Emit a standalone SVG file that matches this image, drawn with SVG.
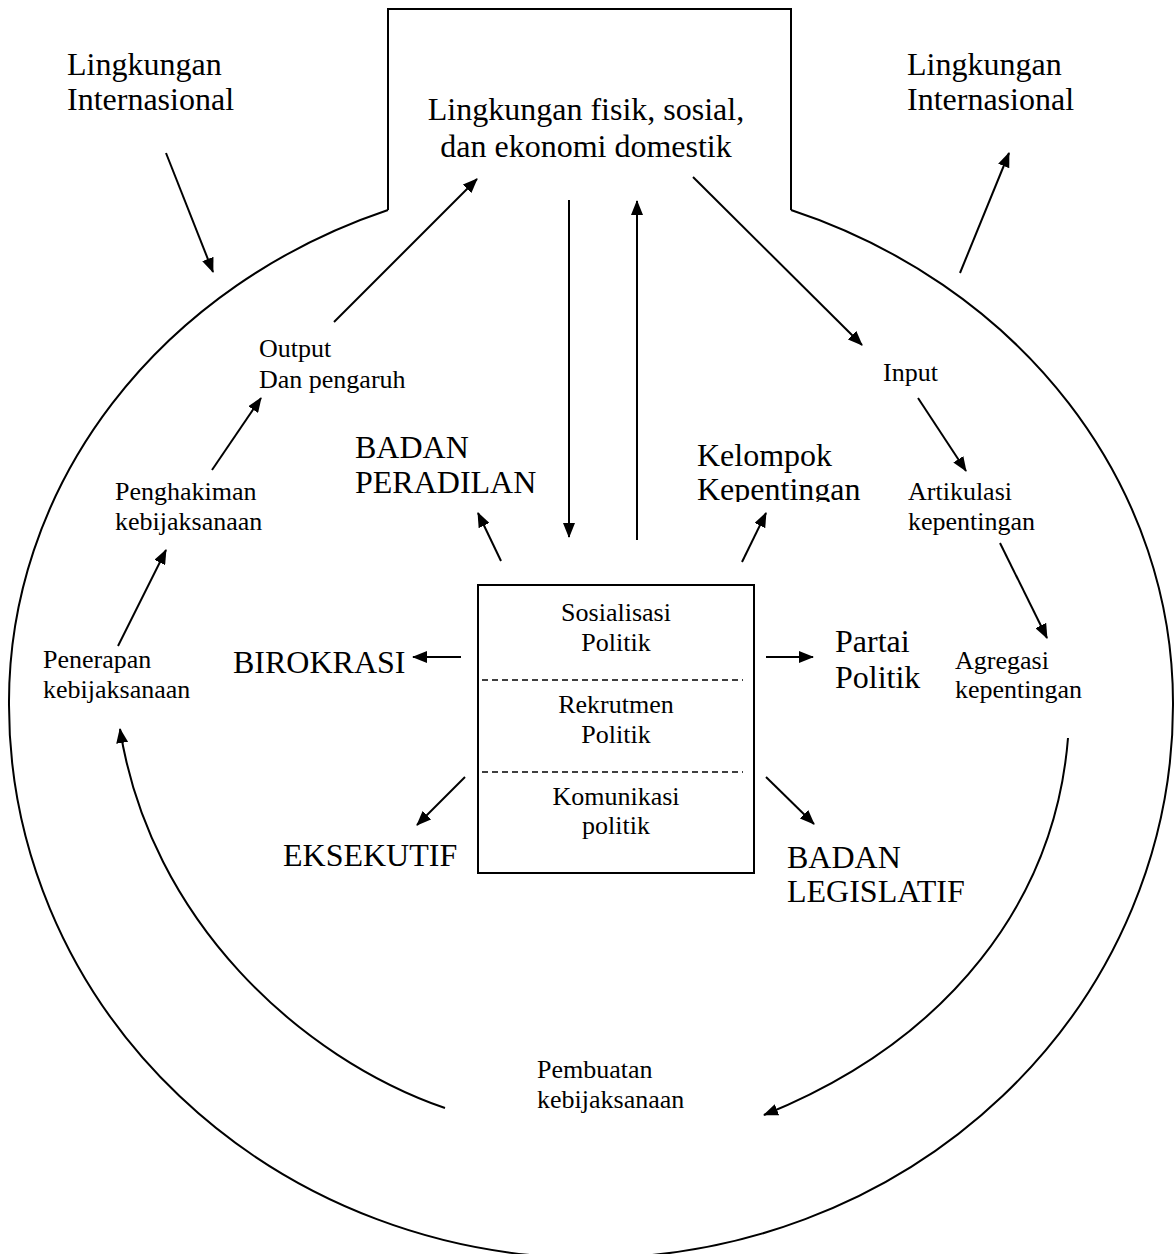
<svg xmlns="http://www.w3.org/2000/svg" width="1176" height="1254" viewBox="0 0 1176 1254">
<style>
  .t { font-family: "Liberation Serif", "Times New Roman", serif; fill: #000; }
  .big { font-size: 32px; }
  .sm { font-size: 26px; }
  .ln { fill: none; stroke: #000; stroke-width: 2; }
  .ar { fill: none; stroke: #000; stroke-width: 2; marker-end: url(#ah); }
  .dash { fill: none; stroke: #000; stroke-width: 1.5; stroke-dasharray: 6 4; }
</style>
<defs>
  <marker id="ah" markerUnits="userSpaceOnUse" markerWidth="15" markerHeight="12" viewBox="0 0 15 12" refX="14" refY="6" orient="auto">
    <path d="M0,0 L15,6 L0,12 z" fill="#000"/>
  </marker>
  <clipPath id="kclip"><rect x="680" y="400" width="220" height="102"/></clipPath>
</defs>
<rect width="1176" height="1254" fill="#fff"/>

<g id="system-boundary">
  <path class="ln" d="M388,210 V9 H791 V210"/>
  <path class="ln" d="M388,210 A582,525 0 0 0 9,705 A582,553 0 0 0 591,1258 A582,553 0 0 0 1173,705 A582,525 0 0 0 791,210"/>
</g>

<g id="connectors">
  <line class="ar" x1="166" y1="153" x2="213" y2="272"/>
  <line class="ar" x1="960" y1="273" x2="1009" y2="153"/>
  <line class="ar" x1="334" y1="322" x2="477" y2="179"/>
  <line class="ar" x1="569" y1="200" x2="569" y2="537"/>
  <line class="ar" x1="637" y1="540" x2="637" y2="201"/>
  <line class="ar" x1="693" y1="177" x2="862" y2="345"/>
  <line class="ar" x1="918" y1="398" x2="966" y2="471"/>
  <line class="ar" x1="1000" y1="543" x2="1047" y2="638"/>
  <line class="ar" x1="118" y1="646" x2="166" y2="550"/>
  <line class="ar" x1="212" y1="470" x2="261" y2="398"/>
  <line class="ar" x1="501" y1="561" x2="478" y2="513"/>
  <line class="ar" x1="742" y1="562" x2="766" y2="513"/>
  <line class="ar" x1="461" y1="657" x2="413" y2="657"/>
  <line class="ar" x1="766" y1="657" x2="813" y2="657"/>
  <line class="ar" x1="465" y1="777" x2="417" y2="825"/>
  <line class="ar" x1="766" y1="777" x2="814" y2="824"/>
  <path class="ar" d="M445,1108 C300,1058 150,920 120,729"/>
  <path class="ar" d="M1068,738 C1055,900 950,1040 764,1115"/>
</g>

<g id="intl-left">
  <text class="t big" x="67" y="75">Lingkungan</text>
  <text class="t big" x="67" y="110">Internasional</text>
</g>
<g id="intl-right">
  <text class="t big" x="907" y="75">Lingkungan</text>
  <text class="t big" x="907" y="110">Internasional</text>
</g>
<g id="domestic">
  <text class="t big" x="586" y="120" text-anchor="middle">Lingkungan fisik, sosial,</text>
  <text class="t big" x="586" y="157" text-anchor="middle">dan ekonomi domestik</text>
</g>
<g id="output">
  <text class="t sm" x="259" y="357">Output</text>
  <text class="t sm" x="259" y="388">Dan pengaruh</text>
</g>
<g id="input">
  <text class="t sm" x="883" y="381">Input</text>
</g>
<g id="penghakiman">
  <text class="t sm" x="115" y="500">Penghakiman</text>
  <text class="t sm" x="115" y="530">kebijaksanaan</text>
</g>
<g id="artikulasi">
  <text class="t sm" x="908" y="500">Artikulasi</text>
  <text class="t sm" x="908" y="530">kepentingan</text>
</g>
<g id="penerapan">
  <text class="t sm" x="43" y="668">Penerapan</text>
  <text class="t sm" x="43" y="698">kebijaksanaan</text>
</g>
<g id="agregasi">
  <text class="t sm" x="955" y="669">Agregasi</text>
  <text class="t sm" x="955" y="698">kepentingan</text>
</g>
<g id="pembuatan">
  <text class="t sm" x="537" y="1078">Pembuatan</text>
  <text class="t sm" x="537" y="1108">kebijaksanaan</text>
</g>
<g id="badan-peradilan">
  <text class="t big" x="355" y="458">BADAN</text>
  <text class="t big" x="355" y="493">PERADILAN</text>
</g>
<g id="kelompok-kepentingan" clip-path="url(#kclip)">
  <text class="t big" x="697" y="466">Kelompok</text>
  <text class="t big" x="697" y="500">Kepentingan</text>
</g>
<g id="birokrasi">
  <text class="t big" x="233" y="673">BIROKRASI</text>
</g>
<g id="partai-politik">
  <text class="t big" x="835" y="652">Partai</text>
  <text class="t big" x="835" y="688">Politik</text>
</g>
<g id="eksekutif">
  <text class="t big" x="283" y="866">EKSEKUTIF</text>
</g>
<g id="badan-legislatif">
  <text class="t big" x="787" y="868">BADAN</text>
  <text class="t big" x="787" y="902">LEGISLATIF</text>
</g>

<g id="political-functions">
  <rect class="ln" x="478" y="585" width="276" height="288"/>
  <line class="dash" x1="482" y1="680" x2="743" y2="680"/>
  <line class="dash" x1="482" y1="772" x2="743" y2="772"/>
  <text class="t sm" x="616" y="621" text-anchor="middle">Sosialisasi</text>
  <text class="t sm" x="616" y="651" text-anchor="middle">Politik</text>
  <text class="t sm" x="616" y="713" text-anchor="middle">Rekrutmen</text>
  <text class="t sm" x="616" y="743" text-anchor="middle">Politik</text>
  <text class="t sm" x="616" y="805" text-anchor="middle">Komunikasi</text>
  <text class="t sm" x="616" y="834" text-anchor="middle">politik</text>
</g>
</svg>
